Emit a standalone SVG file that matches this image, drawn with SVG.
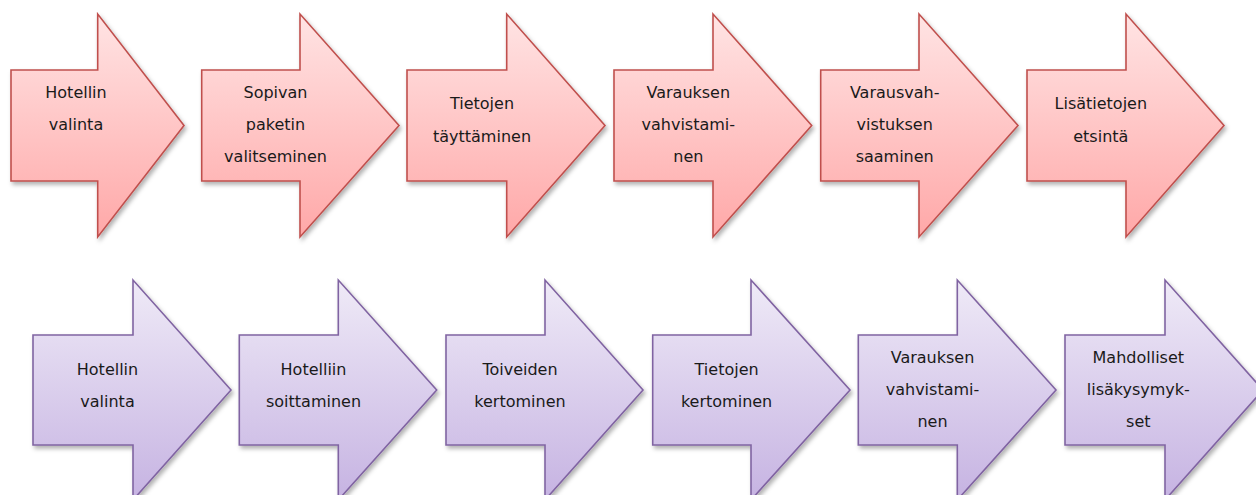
<svg xmlns="http://www.w3.org/2000/svg" width="1256" height="495" viewBox="0 0 1256 495">
<defs>
<linearGradient id="gRed" x1="0" y1="0" x2="0" y2="1">
<stop offset="0" stop-color="#FFE4E4"/>
<stop offset="1" stop-color="#FFA8A8"/>
</linearGradient>
<linearGradient id="gPur" x1="0" y1="0" x2="0" y2="1">
<stop offset="0" stop-color="#EFEAF7"/>
<stop offset="1" stop-color="#C6B3E2"/>
</linearGradient>
<filter id="sh" x="-10%" y="-10%" width="125%" height="125%">
<feDropShadow dx="2" dy="3" stdDeviation="2" flood-color="#000" flood-opacity="0.3"/>
</filter>
<style>
.r{fill:url(#gRed);stroke:#C0504D;stroke-width:1.6;filter:url(#sh)}
.p{fill:url(#gPur);stroke:#8064A2;stroke-width:1.6;filter:url(#sh)}
text{font-family:"DejaVu Sans","Liberation Sans",sans-serif;font-size:16px;fill:#1a1a1a;text-anchor:middle}
</style>
</defs>
<rect width="1256" height="495" fill="#ffffff"/>
<g id="r1">
<polygon class="r" points="11,70 97.7,70 97.7,14 184,125.5 97.7,237 97.7,181 11,181"/>
<text x="76" y="98">Hotellin</text><text x="76" y="130">valinta</text>
</g>
<g id="r2">
<polygon class="r" points="201.7,70 300,70 300,14 399,125.5 300,237 300,181 201.7,181"/>
<text x="275.5" y="98">Sopivan</text><text x="275.5" y="130">paketin</text><text x="275.5" y="162">valitseminen</text>
</g>
<g id="r3">
<polygon class="r" points="407,70 506.7,70 506.7,14 605,125.5 506.7,237 506.7,181 407,181"/>
<text x="482" y="109">Tietojen</text><text x="482" y="142">täyttäminen</text>
</g>
<g id="r4">
<polygon class="r" points="614,70 713,70 713,14 811.7,125.5 713,237 713,181 614,181"/>
<text x="688.3" y="98">Varauksen</text><text x="688.3" y="130">vahvistami-</text><text x="688.3" y="162">nen</text>
</g>
<g id="r5">
<polygon class="r" points="820.7,70 919,70 919,14 1018,125.5 919,237 919,181 820.7,181"/>
<text x="894.7" y="98">Varausvah-</text><text x="894.7" y="130">vistuksen</text><text x="894.7" y="162">saaminen</text>
</g>
<g id="r6">
<polygon class="r" points="1027,70 1126,70 1126,14 1224,125.5 1126,237 1126,181 1027,181"/>
<text x="1100.8" y="109">Lisätietojen</text><text x="1100.8" y="142">etsintä</text>
</g>
<g id="p1">
<polygon class="p" points="33,335 133,335 133,280 231,390 133,500 133,445 33,445"/>
<text x="107.5" y="375">Hotellin</text><text x="107.5" y="407">valinta</text>
</g>
<g id="p2">
<polygon class="p" points="239.3,335 338.3,335 338.3,280 436.7,390 338.3,500 338.3,445 239.3,445"/>
<text x="313.5" y="375">Hotelliin</text><text x="313.5" y="407">soittaminen</text>
</g>
<g id="p3">
<polygon class="p" points="446,335 545,335 545,280 643,390 545,500 545,445 446,445"/>
<text x="520" y="375">Toiveiden</text><text x="520" y="407">kertominen</text>
</g>
<g id="p4">
<polygon class="p" points="652.7,335 751,335 751,280 850,390 751,500 751,445 652.7,445"/>
<text x="726.6" y="375">Tietojen</text><text x="726.6" y="407">kertominen</text>
</g>
<g id="p5">
<polygon class="p" points="858.3,335 957.3,335 957.3,280 1056,390 957.3,500 957.3,445 858.3,445"/>
<text x="932.5" y="363">Varauksen</text><text x="932.5" y="395">vahvistami-</text><text x="932.5" y="427">nen</text>
</g>
<g id="p6">
<polygon class="p" points="1065,335 1165,335 1165,280 1263,390 1165,500 1165,445 1065,445"/>
<text x="1138.3" y="363">Mahdolliset</text><text x="1138.3" y="395">lisäkysymyk-</text><text x="1138.3" y="427">set</text>
</g>
</svg>
